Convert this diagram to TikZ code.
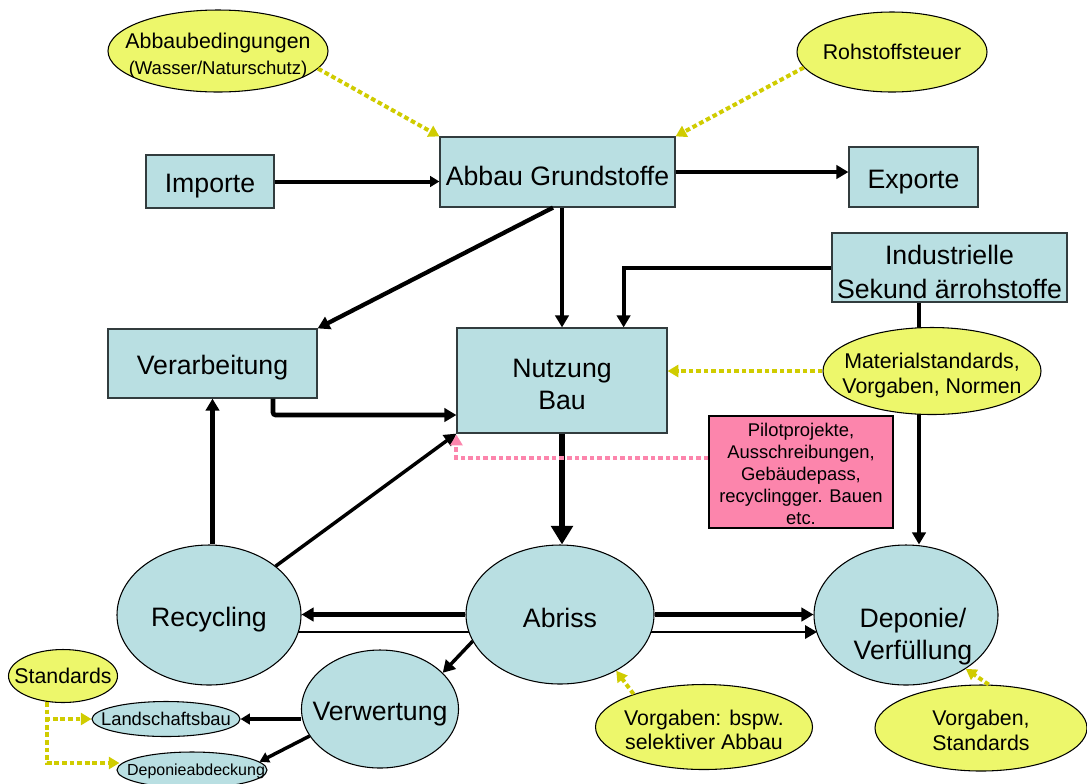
\documentclass[tikz,border=0pt]{standalone}
\usepackage{fontspec}
\setmainfont{Liberation Sans}
\usetikzlibrary{shapes.geometric,arrows.meta,calc,backgrounds}
\definecolor{boxc}{RGB}{185,223,226}
\definecolor{yel}{RGB}{237,247,107}
\definecolor{ydot}{RGB}{208,204,0}
\definecolor{pinkc}{RGB}{252,133,172}
\definecolor{bord}{RGB}{50,60,62}
\tikzset{
  box/.style={draw=bord,line width=0.9pt,fill=boxc,inner sep=0pt},
  ell/.style={ellipse,draw=black,line width=0.8pt,inner sep=0pt},
  cell/.style={ell,fill=boxc},
  yell/.style={ell,fill=yel},
  sz/.style 2 args={minimum width=#1*0.75pt,minimum height=#2*0.75pt},
  big/.style={font=\fontsize{20pt}{24.5pt}\selectfont},
  mid/.style={font=\fontsize{16pt}{18.75pt}\selectfont},
  small/.style={font=\fontsize{13.8pt}{16.5pt}\selectfont},
  lbl/.style={inner sep=0pt,align=center},
  conn/.style={line width=#1,-{Triangle[length=9pt,width=10pt]}},
  conn/.default=3pt,
  ydots/.style={draw=ydot,line width=3pt,dash pattern=on 3.5pt off 2.2pt,-{Triangle[length=8pt,width=9pt]}},
  pdots/.style={draw=pinkc,line width=3pt,dash pattern=on 3.5pt off 2.2pt,-{Triangle[length=8pt,width=9pt]}}
}
\begin{document}
\begin{tikzpicture}[x=0.75pt,y=-0.75pt]
\useasboundingbox (0,0) rectangle (1087,783);

% boxes
\node[box,sz={128}{53}] (imp) at (210,181.5) {};
\node[lbl,big] (impT) at ($(imp)+(0,5)$) {Importe};
\node[box,sz={235}{70}] (abbau) at (557.5,172) {};
\node[lbl,big] (abbauT) at ($(abbau)+(0,4)$) {Abbau Grundstoffe};
\node[box,sz={129}{60}] (exp) at (913.5,177) {};
\node[lbl,big] (expT) at ($(exp)+(0,5.5)$) {Exporte};
\node[box,sz={235}{69}] (ind) at (949.5,267.5) {};
\node[lbl,font=\fontsize{20pt}{25.5pt}\selectfont] (indT) at ($(ind)+(0,4)$) {Industrielle\\Sekund ärrohstoffe};
\node[box,sz={209}{69}] (verarb) at (212.5,363.5) {};
\node[lbl,big] (verarbT) at ($(verarb)+(0,4.5)$) {Verarbeitung};
\node[box,sz={210}{105}] (nutz) at (562,380.5) {};
\node[lbl,big] (nutzT) at ($(nutz)+(0,4)$) {Nutzung\\Bau};
\node[box,draw=black,fill=pinkc,sz={184}{112}] (pink) at (801,472) {};
\node[lbl,small] (pinkT) at ($(pink)+(0,2)$) {Pilotprojekte,\\Ausschreibungen,\\Gebäudepass,\\recyclingger. Bauen\\etc.};

% ellipses
\node[yell,sz={220}{82}] (abbed) at (218,51) {};
\node[lbl] (abbedT) at (218,55.5) {{\fontsize{16pt}{19pt}\selectfont Abbaubedingungen}\\[5pt]{\fontsize{13.9pt}{16pt}\selectfont (Wasser/Naturschutz)}};
\node[yell,sz={190}{80}] (rohst) at (892,52) {};
\node[lbl,mid] (rohstT) at (rohst) {Rohstoffsteuer};

\node[cell,sz={184}{140}] (rec) at (209,615) {};
\node[lbl,big] (recT) at ($(rec)+(0,5)$) {Recycling};
\node[cell,sz={184}{140}] (dep) at (906,615) {};
\node[lbl,font=\fontsize{20pt}{24pt}\selectfont] (depT) at (913,637) {Deponie/\\Verfüllung};
\node[cell,sz={157}{118}] (verw) at (380,709) {};
\node[lbl,big] (verwT) at ($(verw)+(0,5)$) {Verwertung};
\node[yell,sz={109}{53}] (std) at (63,676) {};
\node[lbl,mid] (stdT) at (std) {Standards};
\node[cell,sz={148}{35}] (land) at (166,719) {};
\node[lbl,small] (landT) at (land) {Landschaftsbau};
\node[cell,sz={150}{36}] (depab) at (192,770) {};
\node[lbl,font=\fontsize{12pt}{14pt}\selectfont] (depabT) at (196,771) {Deponieabdeckung};
\node[yell,sz={217}{85}] (vsel) at (704,727) {};
\node[lbl,font=\fontsize{16pt}{18pt}\selectfont] (vselT) at ($(vsel)+(0,3)$) {Vorgaben: bspw.\\selektiver Abbau};
\node[yell,sz={212}{86}] (vstd) at (981,728) {};
\node[lbl,font=\fontsize{16pt}{18.75pt}\selectfont] (vstdT) at ($(vstd)+(0,2)$) {Vorgaben,\\Standards};

% lines behind nodes
\coordinate (indb) at ($(ind.south)+(-30.5,0)$);
\coordinate (rdA) at ($(rec.center)+(89,17)$);
\coordinate (rdB) at ($(dep.center)+(-89,17)$);
\begin{scope}[on background layer]
  \draw[conn] (indb) -- (indb |- dep.north);
  \draw[conn=1.8pt] (rdA) -- (rdB);
\end{scope}

\node[cell,sz={188}{139}] (abr) at (560,614.5) {};
\node[lbl,big] (abrT) at ($(abr)+(0,3)$) {Abriss};
\node[yell,sz={218}{87}] (mat) at (932,371) {};
\node[lbl,mid] (matT) at ($(mat)+(0,4)$) {Materialstandards,\\Vorgaben, Normen};

% connectors
\draw[conn=3pt,-{Triangle[length=7pt,width=8pt]}] (imp.east) -- (abbau.west |- imp.east);
\draw[conn] (abbau.east) -- (abbau.east -| exp.west);
\draw[conn=3.5pt] (abbau.south -| nutz.north) -- (nutz.north);
\draw[conn=3.2pt] ($(abbau.south)+(-4.5,0)$) -- (verarb.north east);
\draw[conn] (ind.west) -| ($(nutz.north east)+(-44,0)$);
\draw[conn=3.5pt,rounded corners=2pt] ($(verarb.south)+(60.5,0)$) |- ($(nutz.west)+(0,34.5)$);
\draw[conn=3.5pt] (rec.north -| verarb.south) -- (verarb.south);
\draw[conn=2.6pt] (rec) -- (nutz.south west);
\draw[conn=4.5pt,-{Triangle[length=14pt,width=16pt]}] (nutz.south) -- (nutz.south |- abr.north);
\draw[conn=3.5pt] (abr.west) -- (abr.west -| rec.east);
\draw[conn=3.5pt] (abr.east) -- (abr.east -| dep.west);
\draw[conn=2.6pt] (abr.197) -- (verw.30);
\draw[conn=2.6pt,-{Triangle[length=7pt,width=8pt]}] (land.east -| verw.west) -- (land.east);
\draw[conn=2.6pt,-{Triangle[length=7pt,width=8pt]}] (verw.201) -- (depab.7);

% dotted influence arrows
\draw[ydots] (abbed.-10) -- (abbau.north west);
\draw[ydots] (rohst.190) -- (abbau.north east);
\draw[ydots] (mat.west) -- (mat.west -| nutz.east);
\draw[pdots] ($(pink.west)+(0,-14)$) -| ($(nutz.south west)+(0,1)$);
\draw[ydots] (vsel.155) -- (abr.-45);
\draw[ydots] (vstd.80) -- (dep.-42);
\coordinate (sb) at ($(std.south)+(-16,-1)$);
\draw[ydots] (sb) |- (land.west);
\draw[ydots] (sb) |- ($(depab.west)+(3,-7)$);
\end{tikzpicture}
\end{document}
